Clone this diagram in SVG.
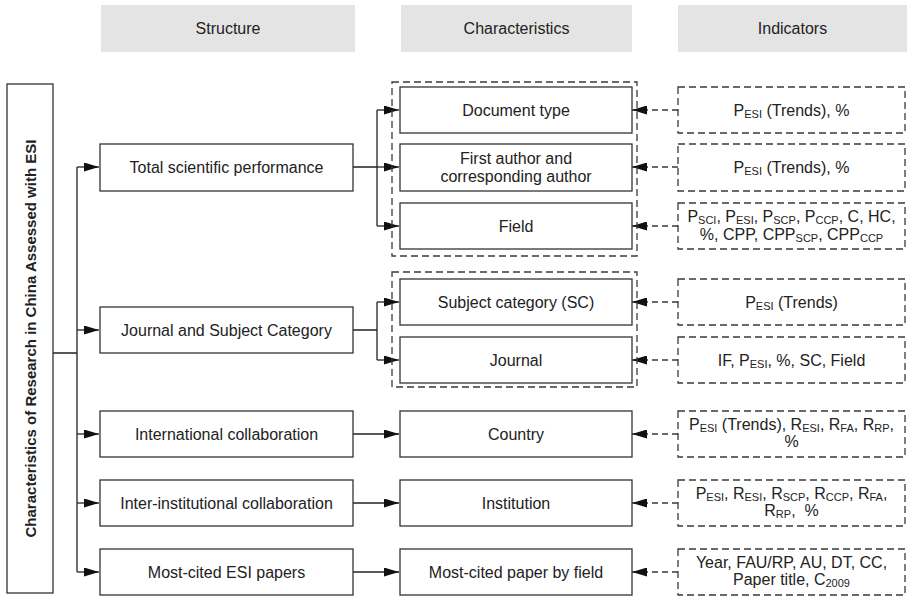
<svg xmlns="http://www.w3.org/2000/svg" width="907" height="598" viewBox="0 0 907 598">
<style>
text{font-family:"Liberation Sans",Arial,sans-serif;font-size:16px;fill:#222;text-anchor:middle}
.hdr{fill:#e4e4e4;stroke:none}
.box{fill:#fff;stroke:#333;stroke-width:1.3}
.dbox{fill:none;stroke:#3a3a3a;stroke-width:1.3;stroke-dasharray:7 4}
.ln{fill:none;stroke:#222;stroke-width:1.3}
.arr{fill:none;stroke:#222;stroke-width:1.3;marker-end:url(#ah)}
.darr{fill:none;stroke:#3a3a3a;stroke-width:1.3;stroke-dasharray:6 4;marker-end:url(#ah)}
.s{font-size:11px}
.title{font-weight:bold;font-size:15px}
</style>
<defs>
<marker id="ah" markerUnits="userSpaceOnUse" markerWidth="15" markerHeight="9" refX="15" refY="4.5" orient="auto">
<path d="M0,0 L15,4.5 L0,9 z" fill="#111"/>
</marker>
</defs>

<g id="headers">
<rect class="hdr" x="101" y="5" width="254" height="47"/>
<text x="228" y="34">Structure</text>
<rect class="hdr" x="401" y="5" width="231" height="47"/>
<text x="516.5" y="34">Characteristics</text>
<rect class="hdr" x="678" y="5" width="229" height="47"/>
<text x="792.5" y="34">Indicators</text>
</g>

<g id="connectors">
<path class="ln" d="M53,353 H77 M77,167 V572"/>
<path class="arr" d="M77,167 H99"/>
<path class="arr" d="M77,330 H99"/>
<path class="arr" d="M77,434 H99"/>
<path class="arr" d="M77,503 H99"/>
<path class="arr" d="M77,572 H99"/>
<path class="ln" d="M353,167 H377 M377,110 V226"/>
<path class="arr" d="M377,110 H399"/>
<path class="arr" d="M377,167 H399"/>
<path class="arr" d="M377,226 H399"/>
<path class="ln" d="M353,330 H377 M377,302 V360"/>
<path class="arr" d="M377,302 H399"/>
<path class="arr" d="M377,360 H399"/>
<path class="arr" d="M353,434 H399"/>
<path class="arr" d="M353,503 H399"/>
<path class="arr" d="M353,572 H399"/>
<path class="darr" d="M678,110 H632"/>
<path class="darr" d="M678,167 H632"/>
<path class="darr" d="M678,226 H632"/>
<path class="darr" d="M678,302 H632"/>
<path class="darr" d="M678,360 H632"/>
<path class="darr" d="M678,434 H632"/>
<path class="darr" d="M678,503 H632"/>
<path class="darr" d="M678,572 H632"/>
</g>

<g id="root">
<rect class="box" x="7" y="84" width="46" height="509"/>
<text class="title" transform="translate(36,338.5) rotate(-90)">Characteristics of Research in China Assessed with ESI</text>
</g>

<g id="s-total"><rect class="box" x="100" y="144" width="253" height="47"/><text x="226.5" y="173">Total scientific performance</text></g>
<g id="s-journal"><rect class="box" x="100" y="307" width="253" height="46"/><text x="226.5" y="335.5">Journal and Subject Category</text></g>
<g id="s-intl"><rect class="box" x="100" y="411" width="253" height="46"/><text x="226.5" y="439.5">International collaboration</text></g>
<g id="s-inter"><rect class="box" x="100" y="480" width="253" height="46"/><text x="226.5" y="508.5">Inter-institutional collaboration</text></g>
<g id="s-most"><rect class="box" x="100" y="549" width="253" height="46"/><text x="226.5" y="577.5">Most-cited ESI papers</text></g>

<g id="group1"><rect class="dbox" x="392" y="82" width="245" height="174"/></g>
<g id="group2"><rect class="dbox" x="392" y="272" width="245" height="115"/></g>

<g id="c-doc"><rect class="box" x="400" y="87" width="232" height="46"/><text x="516" y="115.5">Document type</text></g>
<g id="c-first"><rect class="box" x="400" y="144" width="232" height="47"/><text x="516" y="164">First author and</text><text x="516" y="182">corresponding author</text></g>
<g id="c-field"><rect class="box" x="400" y="203" width="232" height="46"/><text x="516" y="231.5">Field</text></g>
<g id="c-subj"><rect class="box" x="400" y="279" width="232" height="46"/><text x="516" y="307.5">Subject category (SC)</text></g>
<g id="c-journal"><rect class="box" x="400" y="337" width="232" height="46"/><text x="516" y="365.5">Journal</text></g>
<g id="c-country"><rect class="box" x="400" y="411" width="232" height="46"/><text x="516" y="439.5">Country</text></g>
<g id="c-inst"><rect class="box" x="400" y="480" width="232" height="46"/><text x="516" y="508.5">Institution</text></g>
<g id="c-most"><rect class="box" x="400" y="549" width="232" height="46"/><text x="516" y="577.5">Most-cited paper by field</text></g>

<g id="i-doc"><rect class="dbox" x="678" y="87" width="227" height="46"/><text x="791.5" y="115.5">P<tspan class="s" dy="2">ESI</tspan><tspan dy="-2"> (Trends), %</tspan></text></g>
<g id="i-first"><rect class="dbox" x="678" y="144" width="227" height="47"/><text x="791.5" y="173">P<tspan class="s" dy="2">ESI</tspan><tspan dy="-2"> (Trends), %</tspan></text></g>
<g id="i-field"><rect class="dbox" x="678" y="203" width="227" height="46"/>
<text x="791.5" y="222">P<tspan class="s" dy="2">SCI</tspan><tspan dy="-2">, P</tspan><tspan class="s" dy="2">ESI</tspan><tspan dy="-2">, P</tspan><tspan class="s" dy="2">SCP</tspan><tspan dy="-2">, P</tspan><tspan class="s" dy="2">CCP</tspan><tspan dy="-2">, C, HC,</tspan></text>
<text x="791.5" y="240">%, CPP, CPP<tspan class="s" dy="2">SCP</tspan><tspan dy="-2">, CPP</tspan><tspan class="s" dy="2">CCP</tspan></text></g>
<g id="i-subj"><rect class="dbox" x="678" y="279" width="227" height="46"/><text x="791.5" y="307.5">P<tspan class="s" dy="2">ESI</tspan><tspan dy="-2"> (Trends)</tspan></text></g>
<g id="i-journal"><rect class="dbox" x="678" y="337" width="227" height="46"/><text x="791.5" y="365.5">IF, P<tspan class="s" dy="2">ESI</tspan><tspan dy="-2">, %, SC, Field</tspan></text></g>
<g id="i-country"><rect class="dbox" x="678" y="411" width="227" height="46"/>
<text x="791.5" y="429.5">P<tspan class="s" dy="2">ESI</tspan><tspan dy="-2"> (Trends), R</tspan><tspan class="s" dy="2">ESI</tspan><tspan dy="-2">, R</tspan><tspan class="s" dy="2">FA</tspan><tspan dy="-2">, R</tspan><tspan class="s" dy="2">RP</tspan><tspan dy="-2">,</tspan></text>
<text x="791.5" y="446.5">%</text></g>
<g id="i-inst"><rect class="dbox" x="678" y="480" width="227" height="46"/>
<text x="791.5" y="498.5">P<tspan class="s" dy="2">ESI</tspan><tspan dy="-2">, R</tspan><tspan class="s" dy="2">ESI</tspan><tspan dy="-2">, R</tspan><tspan class="s" dy="2">SCP</tspan><tspan dy="-2">, R</tspan><tspan class="s" dy="2">CCP</tspan><tspan dy="-2">, R</tspan><tspan class="s" dy="2">FA</tspan><tspan dy="-2">,</tspan></text>
<text x="791.5" y="516" xml:space="preserve">R<tspan class="s" dy="2">RP</tspan><tspan dy="-2">,  %</tspan></text></g>
<g id="i-most"><rect class="dbox" x="678" y="549" width="227" height="46"/>
<text x="791.5" y="568">Year, FAU/RP, AU, DT, CC,</text>
<text x="791.5" y="585">Paper title, C<tspan class="s" dy="2">2009</tspan></text></g>
</svg>
